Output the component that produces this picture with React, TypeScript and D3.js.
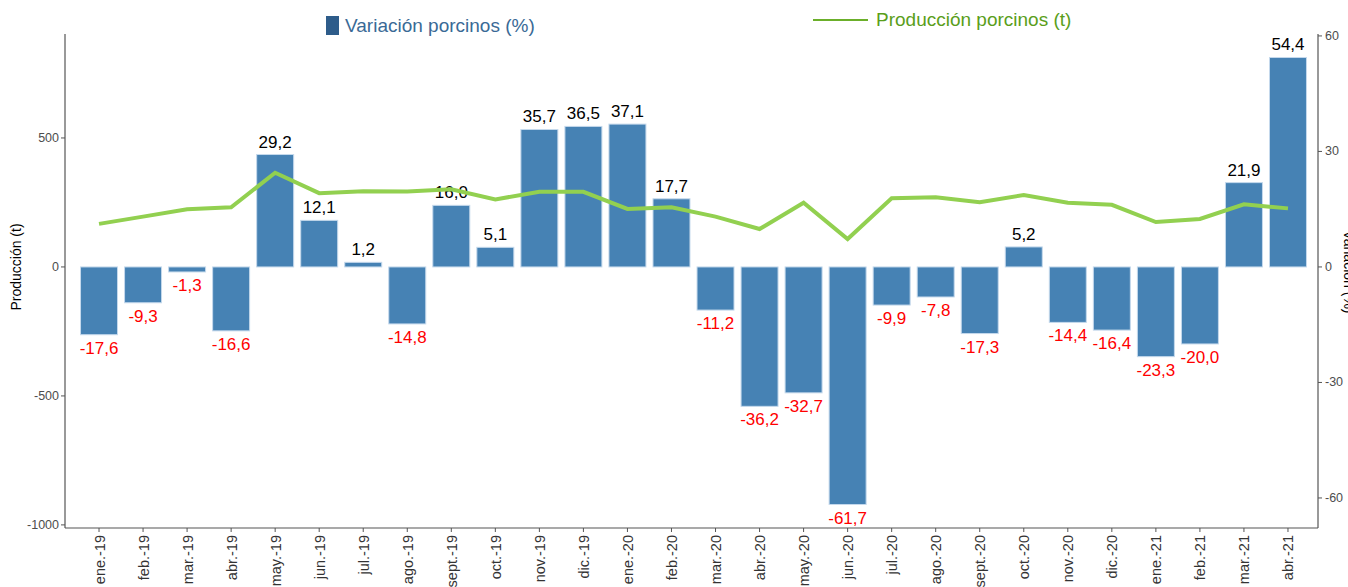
import React from "react";
import * as d3 from "d3";

const categories = ["ene.-19","feb.-19","mar.-19","abr.-19","may.-19","jun.-19","jul.-19","ago.-19","sept.-19","oct.-19","nov.-19","dic.-19","ene.-20","feb.-20","mar.-20","abr.-20","may.-20","jun.-20","jul.-20","ago.-20","sept.-20","oct.-20","nov.-20","dic.-20","ene.-21","feb.-21","mar.-21","abr.-21"];
const variacion = [-17.6,-9.3,-1.3,-16.6,29.2,12.1,1.2,-14.8,16.0,5.1,35.7,36.5,37.1,17.7,-11.2,-36.2,-32.7,-61.7,-9.9,-7.8,-17.3,5.2,-14.4,-16.4,-23.3,-20.0,21.9,54.4];
const produccion = [167,195,224,231,365,286,293,292,301,262,291,291,225,231,195,147,249,108,266,270,251,279,249,241,174,186,243,227];
const leftTicks = [-1000,-500,0,500];
const rightTicks = [-60,-30,0,30,60];

const W = 1348, H = 587;
const X0 = 65, X1 = 1318, Y0 = 34, Y1 = 528;

export default function App() {
  const x = d3.scaleBand<string>().domain(categories).range([77, 1310]).paddingInner(0.16).paddingOuter(0.08);
  const yL = d3.scaleLinear().domain([-1012, 903]).range([Y1, Y0]);
  const yR = d3.scaleLinear().domain([-67.8, 60.5]).range([Y1, Y0]);
  const line = d3.line<number>().x((_, i) => x(categories[i])! + x.bandwidth() / 2).y(d => yL(d));
  const fmt = (v: number) => v.toFixed(1).replace(".", ",");
  const font = "Liberation Sans, Arial, sans-serif";
  return (
    <svg width={W} height={H} style={{ position: "absolute", left: 0, top: 0, fontFamily: font }}>
      <rect width={W} height={H} fill="#fff" />
      {variacion.map((v, i) => (
        <rect key={i} x={x(categories[i])} width={x.bandwidth()} y={Math.min(yR(v), yR(0))} height={Math.abs(yR(v) - yR(0))} fill="#4682B4" stroke="#c5d9ec" strokeWidth={1} />
      ))}
      {variacion.map((v, i) => (
        <text key={i} x={x(categories[i])! + x.bandwidth() / 2} y={v >= 0 ? yR(v) - 7 : yR(v) + 19} textAnchor="middle" fontSize={17} fill={v >= 0 ? "#000" : "#ff0000"}>{fmt(v)}</text>
      ))}
      <path d={line(produccion)!} fill="none" stroke="#92D050" strokeWidth={4} strokeLinejoin="miter" />
      <line x1={X0} x2={X0} y1={Y0} y2={Y1} stroke="#555" strokeWidth={1.2} />
      <line x1={X1} x2={X1} y1={Y0} y2={Y1} stroke="#555" strokeWidth={1.2} />
      <line x1={X0} x2={X1} y1={Y1} y2={Y1} stroke="#555" strokeWidth={1.2} />
      {leftTicks.map(t => (
        <g key={t}>
          <line x1={X0 - 4} x2={X0} y1={yL(t)} y2={yL(t)} stroke="#555" />
          <text x={X0 - 6} y={yL(t) + 4} textAnchor="end" fontSize={12.5} fill="#4d4d4d">{t}</text>
        </g>
      ))}
      {rightTicks.map(t => (
        <g key={t}>
          <line x1={X1} x2={X1 + 4} y1={yR(t)} y2={yR(t)} stroke="#555" />
          <text x={X1 + 7} y={yR(t) + 4} textAnchor="start" fontSize={12.5} fill="#4d4d4d">{t}</text>
        </g>
      ))}
      {categories.map(c => {
        const cx = x(c)! + x.bandwidth() / 2;
        return (
          <g key={c}>
            <line x1={cx} x2={cx} y1={Y1} y2={Y1 + 4} stroke="#555" />
            <text transform={`translate(${cx + 5.5},${Y1 + 7}) rotate(-90)`} textAnchor="end" fontSize={14.5} fill="#333">{c}</text>
          </g>
        );
      })}
      <text transform={`translate(21,267) rotate(-90)`} textAnchor="middle" fontSize={14} fill="#000">Producción (t)</text>
      <text transform={`translate(1344,272) rotate(90)`} textAnchor="middle" fontSize={14} fill="#000">Variación (%)</text>
      <rect x={326} y={16} width={13} height={19} fill="#2E5C8A" />
      <text x={345} y={32} fontSize={19} fill="#3A6A96">Variación porcinos (%)</text>
      <line x1={813} x2={868} y1={20} y2={20} stroke="#6BAF2A" strokeWidth={2} />
      <text x={876} y={26} fontSize={19} fill="#5A9E1A">Producción porcinos (t)</text>
    </svg>
  );
}
